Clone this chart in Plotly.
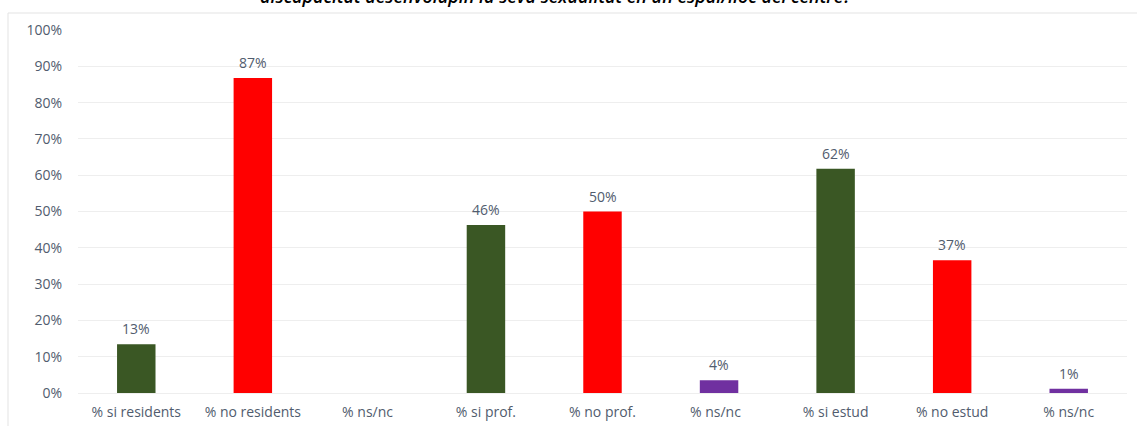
import plotly.graph_objects as go

categories = ["% si residents", "% no residents", "% ns/nc ", "% si prof.", "% no prof.",
              "% ns/nc  ", "% si estud", "% no estud", "% ns/nc"]
values = [13.4, 86.8, 0, 46.3, 50.0, 3.5, 61.8, 36.6, 1.2]
labels = ["13%", "87%", "", "46%", "50%", "4%", "62%", "37%", "1%"]
colors = ["#3A5724", "#FF0000", "#7030A0"] * 3
title_text = "discapacitat desenvolupin la seva sexualitat en un espai/lloc del centre?"

txt_color = "#515C6E"
font_family = "'Open Sans', sans-serif"

fig = go.Figure(go.Bar(
    x=categories, y=values,
    marker=dict(color=colors, line=dict(width=0)),
    cliponaxis=False,
))

L, R, T, B = 78, 10, 30, 33
W, H = 1137, 426
pw, ph = W - L - R, H - T - B

annotations = [dict(
    x=c, y=v, text=t, xref="x", yref="y", showarrow=False, yanchor="bottom", yshift=4,
    font=dict(family=font_family, size=14, color=txt_color))
    for c, v, t in zip(categories, values, labels) if t]

annotations.append(dict(
    text="<i>" + title_text + "</i>", xref="paper", yref="paper",
    x=(556 - L) / pw, y=1 + (T - 10) / ph, xanchor="center", yanchor="bottom",
    showarrow=False, font=dict(family="'Open Sans', sans-serif", size=18, color="#000000", weight=600),
))

fig.update_layout(
    width=W, height=H,
    margin=dict(l=L, r=R, t=T, b=B, autoexpand=False),
    paper_bgcolor="white", plot_bgcolor="white",
    bargap=0.67,
    showlegend=False,
    font=dict(family=font_family, size=14, color=txt_color),
    xaxis=dict(showgrid=False, showline=False, ticks="", automargin=False,
               tickfont=dict(size=14, color=txt_color), ticklabelstandoff=9),
    yaxis=dict(range=[0, 100], dtick=10, ticksuffix="%", showgrid=True, gridcolor="#EEEEEE",
               gridwidth=1, zeroline=True, zerolinecolor="#EEEEEE", zerolinewidth=1,
               showline=False, ticks="", ticklabelstandoff=15, automargin=False,
               tickfont=dict(size=14, color=txt_color)),
    annotations=annotations,
    shapes=[
        dict(type="line", xref="paper", yref="paper",
             x0=(8 - L) / pw, x1=1 + (R + 5) / pw, y0=1 + (T - 13) / ph, y1=1 + (T - 13) / ph,
             line=dict(color="#E3E3E3", width=1)),
        dict(type="line", xref="paper", yref="paper",
             x0=(8 - L) / pw, x1=(8 - L) / pw, y0=1 + (T - 13) / ph, y1=-B / ph - 0.05,
             line=dict(color="#E3E3E3", width=1)),
    ],
)

fig.write_html("out.html")
